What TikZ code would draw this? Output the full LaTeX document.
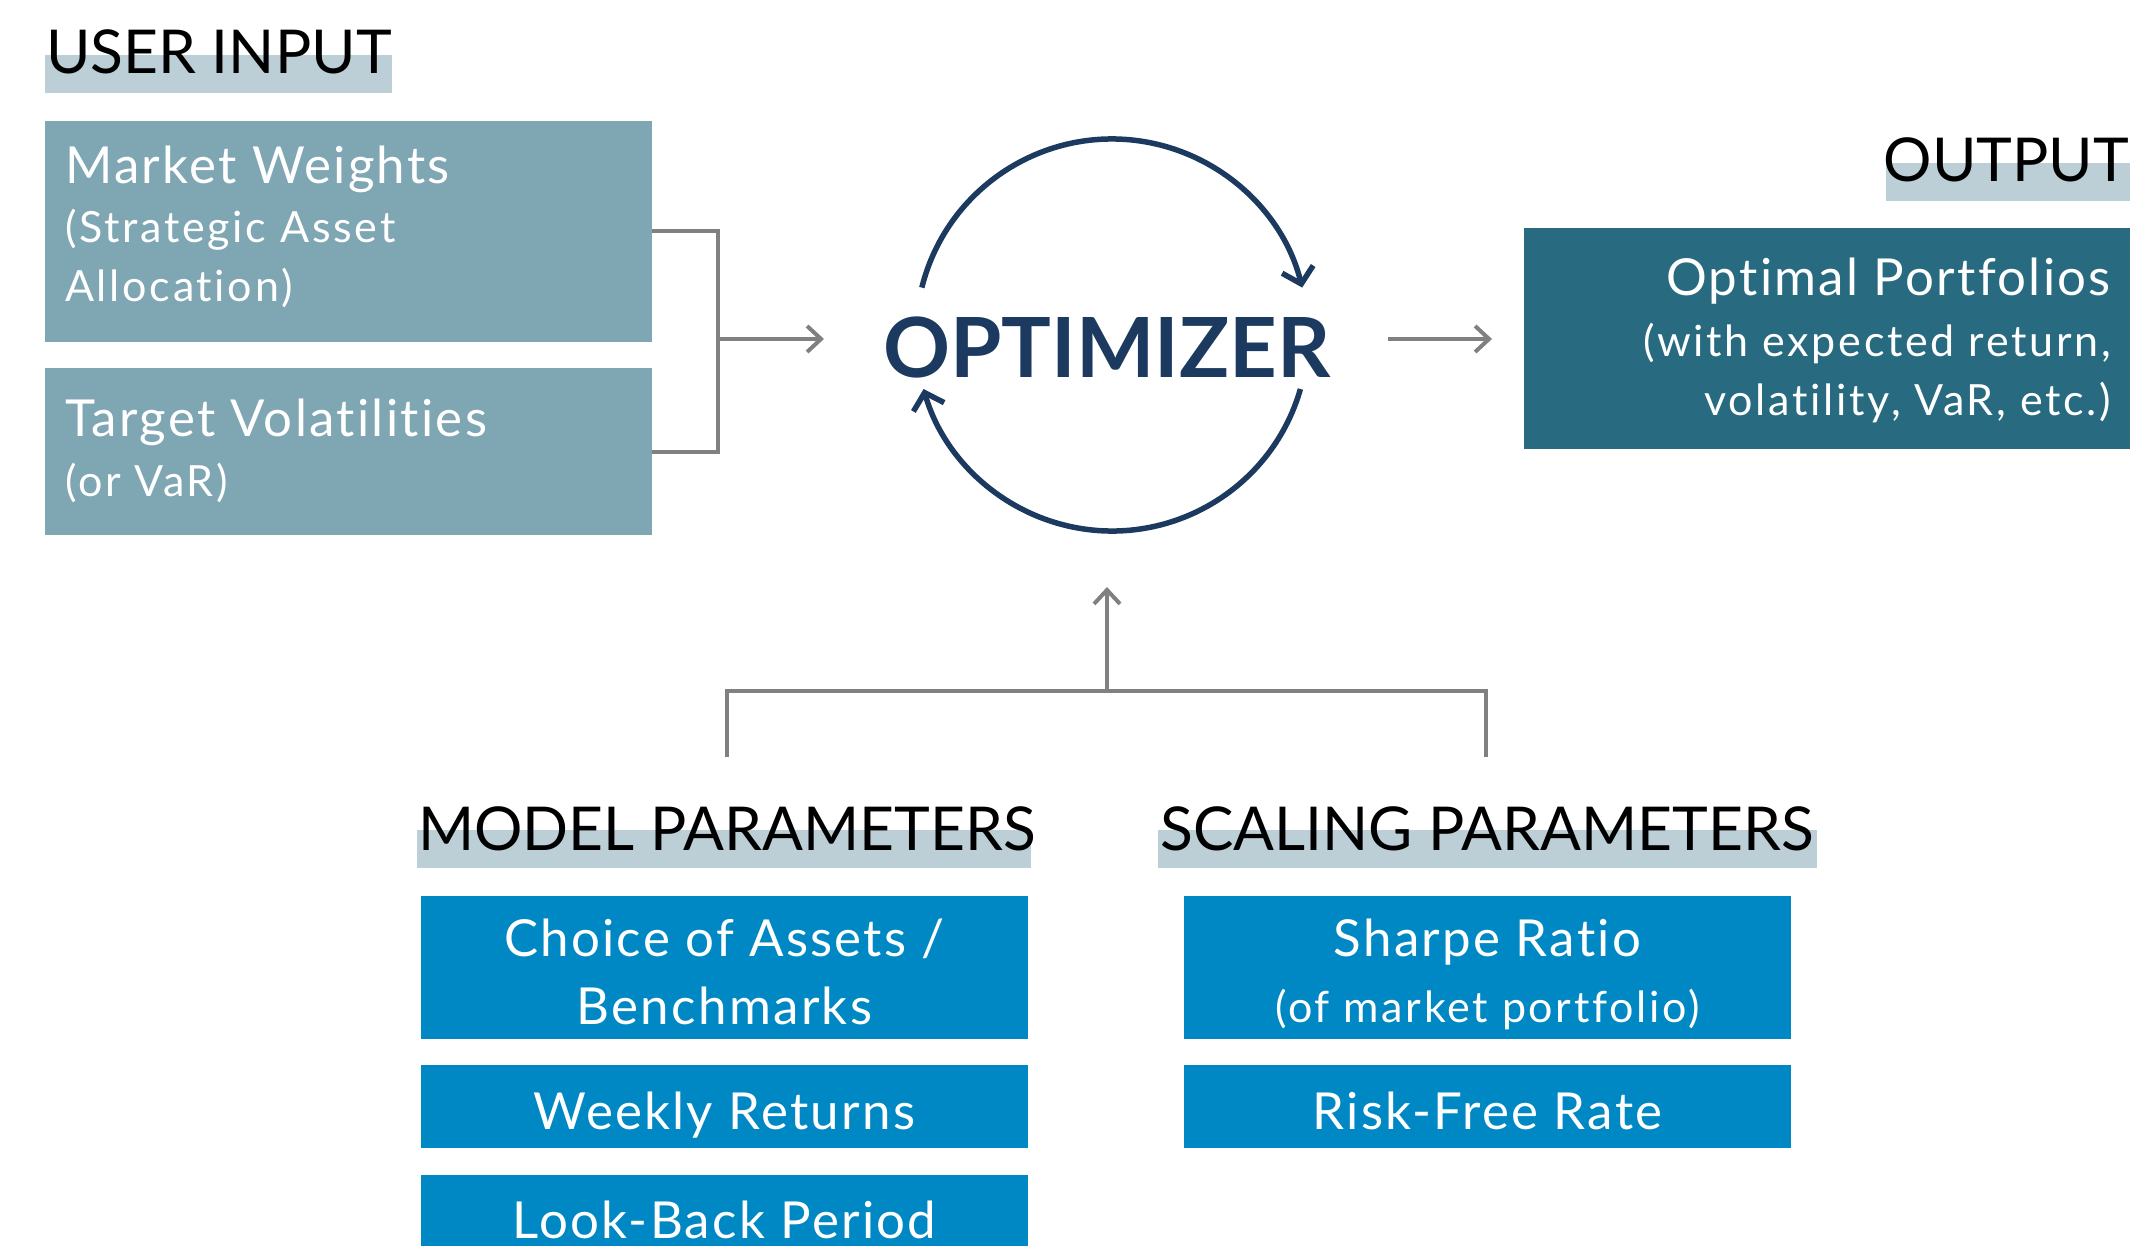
\documentclass[tikz,border=0pt]{standalone}
\usepackage{fontspec}
\setmainfont[Ligatures=NoCommon]{Lato}
\newfontfamily\mainfam[LetterSpace=4.5,Ligatures=NoCommon]{Lato}
\newfontfamily\subfam[LetterSpace=6.3,Ligatures=NoCommon]{Lato}
\usetikzlibrary{arrows.meta}
\definecolor{barc}{HTML}{BCCFD6}
\definecolor{greybox}{HTML}{7FA6B3}
\definecolor{outbox}{HTML}{286A80}
\definecolor{bluebox}{HTML}{0088C4}
\definecolor{navy}{HTML}{1C3A5F}
\definecolor{gline}{HTML}{808080}
\newcommand\fHead{\fontsize{60.5}{70}\selectfont}
\newcommand\fMain{\mainfam\fontsize{51}{60}\selectfont}
\newcommand\fSub{\subfam\fontsize{43}{52}\selectfont}
\newcommand\fOpt{\fontsize{83}{96}\selectfont\bfseries}
\begin{document}
\begin{tikzpicture}[x=1pt,y=-1pt,
  boxshape/.style={inner sep=0pt, outer sep=0pt, anchor=north west, draw=none},
  hbar/.style={boxshape, fill=barc, minimum height=38pt},
  headtxt/.style={inner sep=0pt, font=\fHead, text=black},
  maintxt/.style={inner sep=0pt, font=\fMain, text=white},
  subtxt/.style={inner sep=0pt, font=\fSub, text=white},
  gconn/.style={draw=gline, line width=4pt},
  garrow/.style={gconn, -{Straight Barb[length=14pt, width=26pt]}},
  loop/.style={draw=navy, line width=5.5pt, -{Straight Barb[length=15pt, width=32pt]}}
]
\useasboundingbox (0,0) rectangle (2132,1246);

% ---------- USER INPUT ----------
\node[hbar, minimum width=347pt] (uibar) at (45,55) {};
\node[headtxt, anchor=base west] (uitxt) at (46,74) {USER INPUT};

\node[boxshape, fill=greybox, minimum width=607pt, minimum height=221pt] (mw) at (45,121) {};
\node[maintxt, anchor=base west] (mw1) at (65,184) {Market Weights};
\node[subtxt, anchor=base west] (mw2) at (65,243) {(Strategic Asset};
\node[subtxt, anchor=base west] (mw3) at (65,302) {Allocation)};

\node[boxshape, fill=greybox, minimum width=607pt, minimum height=167pt] (tv) at (45,368) {};
\node[maintxt, anchor=base west] (tv1) at (65,436) {Target Volatilities};
\node[subtxt, anchor=base west] (tv2) at (65,496) {(or VaR)};

% bracket into optimizer
\coordinate (jx) at (718,339);
\coordinate (ain) at (824,339);
\draw[gconn] (mw.east) -| (jx) |- (tv.east);
\draw[garrow] (jx) -- (ain);

% ---------- OPTIMIZER ----------
\coordinate (oc) at (1112,335);
\node[inner sep=0pt, font=\fOpt, text=navy, anchor=base] (opt) at (1107,377) {OPTIMIZER};
\draw[loop] ([shift={(-166:196)}]oc) arc[start angle=-166, end angle=-14, radius=196];
\draw[loop] ([shift={(16:196)}]oc) arc[start angle=16, end angle=164, radius=196];

% ---------- OUTPUT ----------
\coordinate (aout1) at (1388,339);
\coordinate (aout2) at (1492,339);
\draw[garrow] (aout1) -- (aout2);

\node[hbar, minimum width=244pt] (outbar) at (1886,163) {};
\node[headtxt, anchor=base east] (outtxt) at (2129,182) {OUTPUT};

\node[boxshape, fill=outbox, minimum width=606pt, minimum height=221pt] (op) at (1524,228) {};
\node[maintxt, anchor=base east] (op1) at (2111,296) {Optimal Portfolios};
\node[subtxt, anchor=base east] (op2) at (2111,356) {(with expected return,};
\node[subtxt, anchor=base east] (op3) at (2111,415) {volatility, VaR, etc.)};

% ---------- bottom connectors ----------
\coordinate (bl) at (727,757);
\coordinate (br) at (1486,757);
\coordinate (bj) at (1107,691);
\coordinate (bt) at (1107,587);
\draw[gconn] (bl) |- (bj) -| (br);
\draw[garrow] (bj) -- (bt);

% ---------- MODEL PARAMETERS ----------
\node[hbar, minimum width=614pt] (mpbar) at (417,830) {};
\node[headtxt, anchor=base west] (mptxt) at (418,850) {MODEL PARAMETERS};

\node[boxshape, fill=bluebox, minimum width=607pt, minimum height=143pt] (ca) at (421,896) {};
\node[maintxt, anchor=base] (ca1) at (724.5,956) {Choice of Assets /};
\node[maintxt, anchor=base] (ca2) at (724.5,1024) {Benchmarks};

\node[boxshape, fill=bluebox, minimum width=607pt, minimum height=83pt] (wr) at (421,1065) {};
\node[maintxt, anchor=base] (wr1) at (724.5,1129) {Weekly Returns};

\node[boxshape, fill=bluebox, minimum width=607pt, minimum height=71pt] (lb) at (421,1175) {};
\node[maintxt, anchor=base] (lb1) at (724.5,1238) {Look-Back Period};

% ---------- SCALING PARAMETERS ----------
\node[hbar, minimum width=659pt] (spbar) at (1158,830) {};
\node[headtxt, anchor=base west] (sptxt) at (1160,850) {SCALING PARAMETERS};

\node[boxshape, fill=bluebox, minimum width=607pt, minimum height=143pt] (sr) at (1184,896) {};
\node[maintxt, anchor=base] (sr1) at (1487.5,956) {Sharpe Ratio};
\node[subtxt, anchor=base] (sr2) at (1487.5,1022) {(of market portfolio)};

\node[boxshape, fill=bluebox, minimum width=607pt, minimum height=83pt] (rf) at (1184,1065) {};
\node[maintxt, anchor=base] (rf1) at (1487.5,1129) {Risk-Free Rate};
\end{tikzpicture}
\end{document}
